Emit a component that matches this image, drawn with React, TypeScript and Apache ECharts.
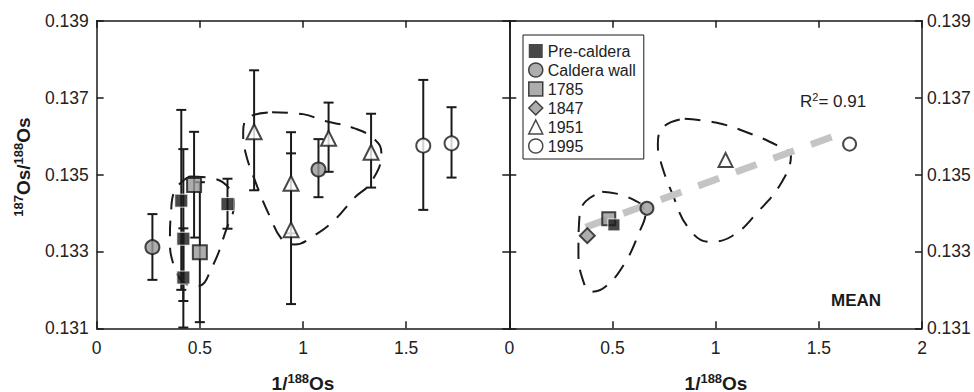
import React, { useEffect, useRef } from "react";
import * as echarts from "echarts";

// ---------- data ----------
// [x (1/188Os), y (187Os/188Os), error low, error high]
const leftPreCaldera = [
  [0.41, 0.13432, 0.132, 0.13668],
  [0.42, 0.13333, 0.13171, 0.13566],
  [0.42, 0.13232, 0.13102, 0.1336],
  [0.634, 0.13423, 0.13359, 0.13489],
];
const leftCalderaWall = [
  [0.27, 0.13311, 0.13226, 0.13397],
  [1.075, 0.13513, 0.13441, 0.13592],
];
const left1785 = [
  [0.472, 0.13473, 0.13336, 0.13611],
  [0.5, 0.13298, 0.13116, 0.1348],
];
const left1951 = [
  [0.763, 0.13611, 0.13459, 0.13771],
  [0.942, 0.13477, 0.13347, 0.1361],
  [0.942, 0.13356, 0.13163, 0.13555],
  [1.124, 0.13594, 0.13507, 0.13687],
  [1.33, 0.13558, 0.13466, 0.13658],
];
const left1995 = [
  [1.583, 0.13575, 0.13408, 0.13746],
  [1.72, 0.13581, 0.13492, 0.13675],
];

// mean values (right panel)
const meanPreCaldera = [[0.507, 0.13369]];
const meanCalderaWall = [[0.667, 0.13412]];
const mean1785 = [[0.482, 0.13385]];
const mean1847 = [[0.378, 0.13341]];
const mean1951 = [[1.048, 0.13538]];
const mean1995 = [[1.649, 0.13579]];

// regression line end points (right panel)
const regressionLine = [
  [0.37, 0.13363],
  [1.63, 0.13611],
];

// dashed field outlines (closed: last point repeats the first)
const leftFieldSmall = [
  [0.45, 0.13495], [0.56, 0.1349], [0.64, 0.13465], [0.665, 0.1342], [0.63, 0.1336],
  [0.56, 0.1326], [0.49, 0.1321], [0.42, 0.1322], [0.37, 0.1327], [0.355, 0.1333],
  [0.36, 0.134], [0.38, 0.1346], [0.45, 0.13495],
];
const leftFieldLarge = [
  [0.85, 0.13662], [1.0, 0.13657], [1.1, 0.1364], [1.25, 0.1362], [1.35, 0.1359],
  [1.38, 0.13555], [1.33, 0.1348], [1.25, 0.1344], [1.15, 0.1338], [1.05, 0.1334],
  [0.96, 0.13318], [0.9, 0.1333], [0.84, 0.1339], [0.77, 0.1348], [0.72, 0.1356],
  [0.71, 0.1361], [0.74, 0.1365], [0.85, 0.13662],
];
const rightFieldSmall = [
  [0.45, 0.13455], [0.58, 0.1344], [0.66, 0.134], [0.63, 0.1335], [0.56, 0.1327],
  [0.47, 0.1321], [0.4, 0.13195], [0.36, 0.1322], [0.335, 0.133], [0.34, 0.1339],
  [0.37, 0.1343], [0.45, 0.13455],
];
const rightFieldLarge = [
  [0.85, 0.13645], [1.0, 0.13635], [1.15, 0.1361], [1.3, 0.13575], [1.365, 0.1355],
  [1.32, 0.1348], [1.2, 0.134], [1.08, 0.1334], [0.97, 0.13325], [0.87, 0.1336],
  [0.79, 0.1345], [0.73, 0.1354], [0.72, 0.1358], [0.75, 0.13625], [0.85, 0.13645],
];

const legendNames = ["Pre-caldera", "Caldera wall", "1785", "1847", "1951", "1995"];
const xTicks = [0, 0.5, 1, 1.5, 2];
const yTicks = [0.131, 0.133, 0.135, 0.137, 0.139];

// ---------- styles ----------
const FONT = "Liberation Sans, Arial, Helvetica, sans-serif";
const INK = "#1a1a1a";
const GRAY = "#999999";

const styles: Record<string, any> = {
  "Pre-caldera": { symbol: "rect", itemStyle: { color: INK, borderColor: "#ffffff", borderWidth: 1 } },
  "Caldera wall": { symbol: "circle", itemStyle: { color: GRAY, borderColor: INK, borderWidth: 2 } },
  "1785": { symbol: "rect", itemStyle: { color: GRAY, borderColor: INK, borderWidth: 2 } },
  "1847": { symbol: "diamond", itemStyle: { color: GRAY, borderColor: INK, borderWidth: 2 } },
  "1951": { symbol: "triangle", itemStyle: { color: "#ffffff", borderColor: INK, borderWidth: 2 } },
  "1995": { symbol: "circle", itemStyle: { color: "#ffffff", borderColor: INK, borderWidth: 2 } },
};

function errorBarSeries(rows: number[][]) {
  return {
    type: "custom",
    xAxisIndex: 0,
    yAxisIndex: 0,
    silent: true,
    z: 3,
    data: rows,
    encode: { x: 0, y: [2, 3] },
    renderItem: (params: any, api: any) => {
      const x = api.value(0);
      const p1 = api.coord([x, api.value(2)]);
      const p2 = api.coord([x, api.value(3)]);
      const w = 5;
      const st = { stroke: INK, lineWidth: 2 };
      return {
        type: "group",
        children: [
          { type: "line", shape: { x1: p1[0], y1: p1[1], x2: p2[0], y2: p2[1] }, style: st },
          { type: "line", shape: { x1: p1[0] - w, y1: p1[1], x2: p1[0] + w, y2: p1[1] }, style: st },
          { type: "line", shape: { x1: p2[0] - w, y1: p2[1], x2: p2[0] + w, y2: p2[1] }, style: st },
        ],
      };
    },
  };
}

function scatter(name: string, rows: number[][], panel: number, size: number, z: number) {
  const s = styles[name];
  return {
    type: "scatter",
    name,
    xAxisIndex: panel === 0 ? 0 : 2,
    yAxisIndex: panel === 0 ? 0 : 2,
    symbol: s.symbol,
    symbolSize: name === "1847" ? size + 2 : size,
    itemStyle: s.itemStyle,
    z,
    data: rows.map((r) => [r[0], r[1]]),
  };
}

function outline(rows: number[][], panel: number) {
  return {
    type: "line",
    xAxisIndex: panel === 0 ? 0 : 2,
    yAxisIndex: panel === 0 ? 0 : 2,
    data: rows,
    smooth: 0.45,
    showSymbol: false,
    silent: true,
    z: 1,
    lineStyle: { color: INK, width: 2, type: [16, 11] },
  };
}

function xAxis(grid: number, position: "top" | "bottom", labels: boolean, hideMax: boolean) {
  return {
    type: "value",
    gridIndex: grid,
    position,
    min: 0,
    max: 2,
    interval: 0.5,
    axisLine: { show: true, onZero: false, lineStyle: { color: INK, width: 1.5 } },
    axisTick: { show: true, inside: true, length: 7, lineStyle: { color: INK, width: 1.5 } },
    splitLine: { show: false },
    axisLabel: {
      show: labels,
      margin: 11,
      fontSize: 17.5,
      fontFamily: FONT,
      color: "#222",
      formatter: (v: number) => (hideMax && v === xTicks[xTicks.length - 1] ? "" : String(v)),
    },
  };
}

function yAxis(grid: number, position: "left" | "right", labels: boolean) {
  return {
    type: "value",
    gridIndex: grid,
    position,
    min: yTicks[0],
    max: yTicks[yTicks.length - 1],
    interval: 0.002,
    axisLine: { show: true, onZero: false, lineStyle: { color: INK, width: 1.5 } },
    axisTick: { show: true, inside: true, length: 7, lineStyle: { color: INK, width: 1.5 } },
    splitLine: { show: false },
    axisLabel: {
      show: labels,
      margin: position === "left" ? 8 : 5,
      fontSize: 17.5,
      fontFamily: FONT,
      color: "#222",
      formatter: (v: number) => v.toFixed(3),
    },
  };
}

export default function App() {
  const ref = useRef<HTMLDivElement>(null);

  useEffect(() => {
    if (!ref.current) return;
    const chart = echarts.init(ref.current, null, { renderer: "svg" });

    const gridTop = 20.7;
    const gridH = 307.6;

    const option: any = {
      animation: false,
      backgroundColor: "#ffffff",
      textStyle: { fontFamily: FONT },
      grid: [
        { left: 96.7, top: gridTop, width: 412.6, height: gridH, containLabel: false },
        { left: 509.3, top: gridTop, width: 412.7, height: gridH, containLabel: false },
      ],
      xAxis: [
        xAxis(0, "bottom", true, true),
        xAxis(0, "top", false, false),
        xAxis(1, "bottom", true, false),
        xAxis(1, "top", false, false),
      ],
      yAxis: [
        yAxis(0, "left", true),
        yAxis(0, "right", false),
        yAxis(1, "left", false),
        yAxis(1, "right", true),
      ],
      legend: {
        orient: "vertical",
        left: 523,
        top: 35,
        padding: [8, 8, 5, 5],
        itemGap: 3,
        itemWidth: 14,
        itemHeight: 14,
        borderColor: INK,
        borderWidth: 1,
        borderRadius: 0,
        backgroundColor: "#ffffff",
        selectedMode: false,
        textStyle: { fontSize: 16, fontFamily: FONT, color: "#222" },
        data: legendNames.map((n) => ({
          name: n,
          icon: styles[n].symbol,
          itemStyle: {
            color: styles[n].itemStyle.color,
            borderColor: INK,
            borderWidth: n === "Pre-caldera" ? 0 : 1.5,
          },
        })),
      },
      graphic: [
        {
          type: "text",
          x: 23,
          y: 167,
          rotation: Math.PI / 2,
          style: {
            text: "{s|187}{b|Os/}{s|188}{b|Os}",
            align: "center",
            verticalAlign: "middle",
            fill: INK,
            rich: {
              b: { fontSize: 19, fontWeight: "bold", fontFamily: FONT, fill: INK, lineHeight: 22 },
              s: { fontSize: 13, fontWeight: "bold", fontFamily: FONT, fill: INK, verticalAlign: "top", lineHeight: 14 },
            },
          },
        },
        ...[303, 716].map((cx) => ({
          type: "text",
          x: cx,
          y: 383,
          style: {
            text: "{b|1/}{s|188}{b|Os}",
            align: "center",
            verticalAlign: "middle",
            fill: INK,
            rich: {
              b: { fontSize: 19, fontWeight: "bold", fontFamily: FONT, fill: INK, lineHeight: 22 },
              s: { fontSize: 13, fontWeight: "bold", fontFamily: FONT, fill: INK, verticalAlign: "top", lineHeight: 14 },
            },
          },
        })),
        {
          type: "text",
          x: 800,
          y: 101,
          style: {
            text: "{n|R}{s|2}{n|= 0.91}",
            align: "left",
            verticalAlign: "middle",
            fill: "#222",
            rich: {
              n: { fontSize: 17, fontFamily: FONT, fill: "#222", lineHeight: 20 },
              s: { fontSize: 11, fontFamily: FONT, fill: "#222", verticalAlign: "top", lineHeight: 12 },
            },
          },
        },
        {
          type: "text",
          x: 856,
          y: 300,
          style: {
            text: "MEAN",
            align: "center",
            verticalAlign: "middle",
            fontSize: 17,
            fontWeight: "bold",
            fontFamily: FONT,
            fill: INK,
          },
        },
      ],
      series: [
        outline(leftFieldSmall, 0),
        outline(leftFieldLarge, 0),
        outline(rightFieldSmall, 1),
        outline(rightFieldLarge, 1),
        {
          type: "line",
          xAxisIndex: 2,
          yAxisIndex: 2,
          data: regressionLine,
          showSymbol: false,
          silent: true,
          z: 1,
          lineStyle: { color: "#c4c4c4", width: 7, type: [22, 18], cap: "butt" },
        },
        errorBarSeries([...leftPreCaldera, ...leftCalderaWall, ...left1785, ...left1951, ...left1995]),
        scatter("Caldera wall", leftCalderaWall, 0, 14, 5),
        scatter("1785", left1785, 0, 14, 5),
        scatter("Pre-caldera", leftPreCaldera, 0, 13, 6),
        scatter("1951", left1951, 0, 15, 5),
        scatter("1995", left1995, 0, 14, 5),
        scatter("1785", mean1785, 1, 13, 5),
        scatter("Pre-caldera", meanPreCaldera, 1, 12, 6),
        scatter("1847", mean1847, 1, 13, 5),
        scatter("Caldera wall", meanCalderaWall, 1, 13, 5),
        scatter("1951", mean1951, 1, 14, 5),
        scatter("1995", mean1995, 1, 13, 5),
      ],
    };

    chart.setOption(option);
    return () => chart.dispose();
  }, []);

  return (
    <div
      ref={ref}
      style={{ position: "fixed", left: 0, top: 0, width: 974, height: 392, background: "#fff" }}
    />
  );
}
